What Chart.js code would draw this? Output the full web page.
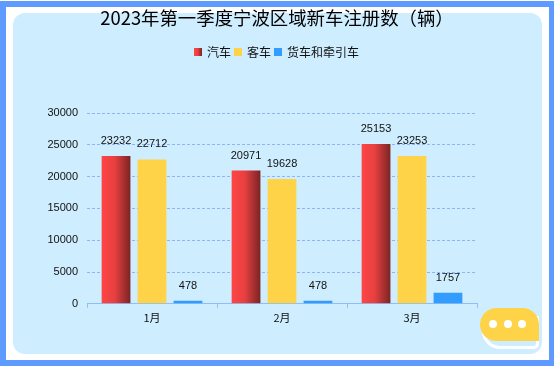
<!DOCTYPE html>
<html>
<head>
<meta charset="utf-8">
<script src="https://cdn.jsdelivr.net/npm/chart.js@4"></script>
<style>
  html, body { margin: 0; padding: 0; background: #fff; }
  #frame { position: absolute; left: 0; top: 1px; width: 554px; height: 365px; box-sizing: border-box;
           background: #fff; border: 6px solid #5f9bff; border-right-width: 5px; }
  #inner { position: absolute; left: 13px; top: 13px; width: 529px; height: 341px;
           background: #ceedff; border-radius: 12px; }
  #wrap { position: absolute; left: 0; top: 0; width: 554px; height: 366px; }
  #bubbleShadow { position: absolute; left: 482px; top: 316px; width: 51px; height: 30px;
                  background: #ceedff; border: 3px solid #fff; border-top: 0; border-radius: 0 0 5px 18px; }
  #bubble { position: absolute; left: 480px; top: 308px; width: 59px; height: 33px; background: #ffd347;
            border-radius: 17px 17px 0 17px; }
  #bubble i { position: absolute; top: 12px; width: 8px; height: 8px; background: #fff; border-radius: 50%; }
</style>
</head>
<body>
<div id="frame"></div>
<div id="inner"></div>
<div id="wrap"><canvas id="myChart" width="554" height="366"></canvas></div>
<div id="bubbleShadow"></div>
<div id="bubble"><i style="left:9px"></i><i style="left:24px"></i><i style="left:38px"></i></div>
<script>
var months = ['1月', '2月', '3月'];
var cars = [23232, 20971, 25153];
var buses = [22712, 19628, 23253];
var trucks = [478, 478, 1757];
var yTicks = [0, 5000, 10000, 15000, 20000, 25000, 30000];

var font = '"Noto Sans CJK SC", "Liberation Sans", sans-serif';
var latin = '"Liberation Sans", sans-serif';
var redLeft = '#ff4545', redMid = '#e84040', redRight = '#7a2424';

function redGradient(c, x0, x1) {
  var g = c.createLinearGradient(x0, 0, x1, 0);
  g.addColorStop(0, redLeft);
  g.addColorStop(0.45, redMid);
  g.addColorStop(1, redRight);
  return g;
}

// small swatches for the legend, the red one needs its gradient too
function swatch(fill) {
  var cv = document.createElement('canvas');
  cv.width = 8; cv.height = 8;
  var c = cv.getContext('2d');
  c.fillStyle = fill === 'red' ? redGradient(c, 0, 8) : fill;
  c.fillRect(0, 0, 8, 8);
  return cv;
}

// bars share one options object, so each one gets its own copy here
var barGradient = {
  id: 'barGradient',
  beforeDatasetsDraw: function (chart) {
    chart.getDatasetMeta(0).data.forEach(function (bar) {
      bar.options = Object.assign({}, bar.options, {
        backgroundColor: redGradient(chart.ctx, bar.x - bar.width / 2, bar.x + bar.width / 2)
      });
    });
  }
};

var valueLabels = {
  id: 'valueLabels',
  afterDatasetsDraw: function (chart) {
    var c = chart.ctx;
    c.save();
    c.font = '11px ' + latin;
    c.fillStyle = '#111';
    c.textAlign = 'center';
    c.textBaseline = 'middle';
    chart.data.datasets.forEach(function (ds, i) {
      chart.getDatasetMeta(i).data.forEach(function (bar, j) {
        c.fillText(ds.data[j], bar.x, bar.y - 15);
      });
    });
    c.restore();
  }
};

// empty space between the legend and the plot
var legendGap = {
  id: 'legendGap',
  beforeInit: function (chart) {
    var fit = chart.legend.fit;
    chart.legend.fit = function () {
      fit.call(this);
      this.height += 45;
    };
  }
};

var ctx = document.getElementById('myChart').getContext('2d');
var myChart = new Chart(ctx, {
  type: 'bar',
  plugins: [barGradient, valueLabels, legendGap],
  data: {
    labels: months,
    datasets: [
      { label: '汽车', data: cars, backgroundColor: '#ff4545', pointStyle: swatch('red') },
      { label: '客车', data: buses, backgroundColor: '#ffd347', pointStyle: swatch('#ffd347') },
      { label: '货车和牵引车', data: trucks, backgroundColor: '#339cff', pointStyle: swatch('#339cff') }
    ]
  },
  options: {
    responsive: false,
    animation: false,
    layout: { padding: { left: 0, right: 0, top: 7, bottom: 39 } },
    datasets: { bar: { categoryPercentage: 0.83, barPercentage: 0.8 } },
    plugins: {
      tooltip: { enabled: false },
      title: {
        display: true,
        text: '2023年第一季度宁波区域新车注册数（辆）',
        color: '#000',
        font: { family: font, size: 18.4, weight: 'normal' },
        padding: { top: 0, bottom: 13 }
      },
      legend: {
        labels: {
          usePointStyle: true,
          pointStyleWidth: 6,
          boxHeight: 8,
          color: '#111',
          font: { family: font, size: 12 },
          padding: 4
        }
      }
    },
    scales: {
      x: {
        border: { color: '#8fbdf5' },
        grid: { display: true, drawOnChartArea: false, drawTicks: true, tickLength: 4, color: '#8fbdf5' },
        ticks: { color: '#111', font: { family: font, size: 11 }, padding: 3 }
      },
      y: {
        min: 0,
        max: 30000,
        afterBuildTicks: function (axis) {
          axis.ticks = yTicks.map(function (v) { return { value: v }; });
        },
        afterFit: function (axis) { axis.width = 87; },
        border: { display: false, dash: [3, 2] },
        grid: { color: '#8fb4f7', drawTicks: false },
        ticks: {
          color: '#111',
          font: { family: latin, size: 11 },
          padding: 9,
          callback: function (v) { return String(v); }
        }
      },
      // holds the room right of the plot so title and legend stay centred on the page
      rightGap: {
        position: 'right',
        border: { display: false },
        grid: { display: false },
        ticks: { display: false },
        afterFit: function (axis) { axis.width = 77; }
      }
    }
  }
});
</script>
</body>
</html>
